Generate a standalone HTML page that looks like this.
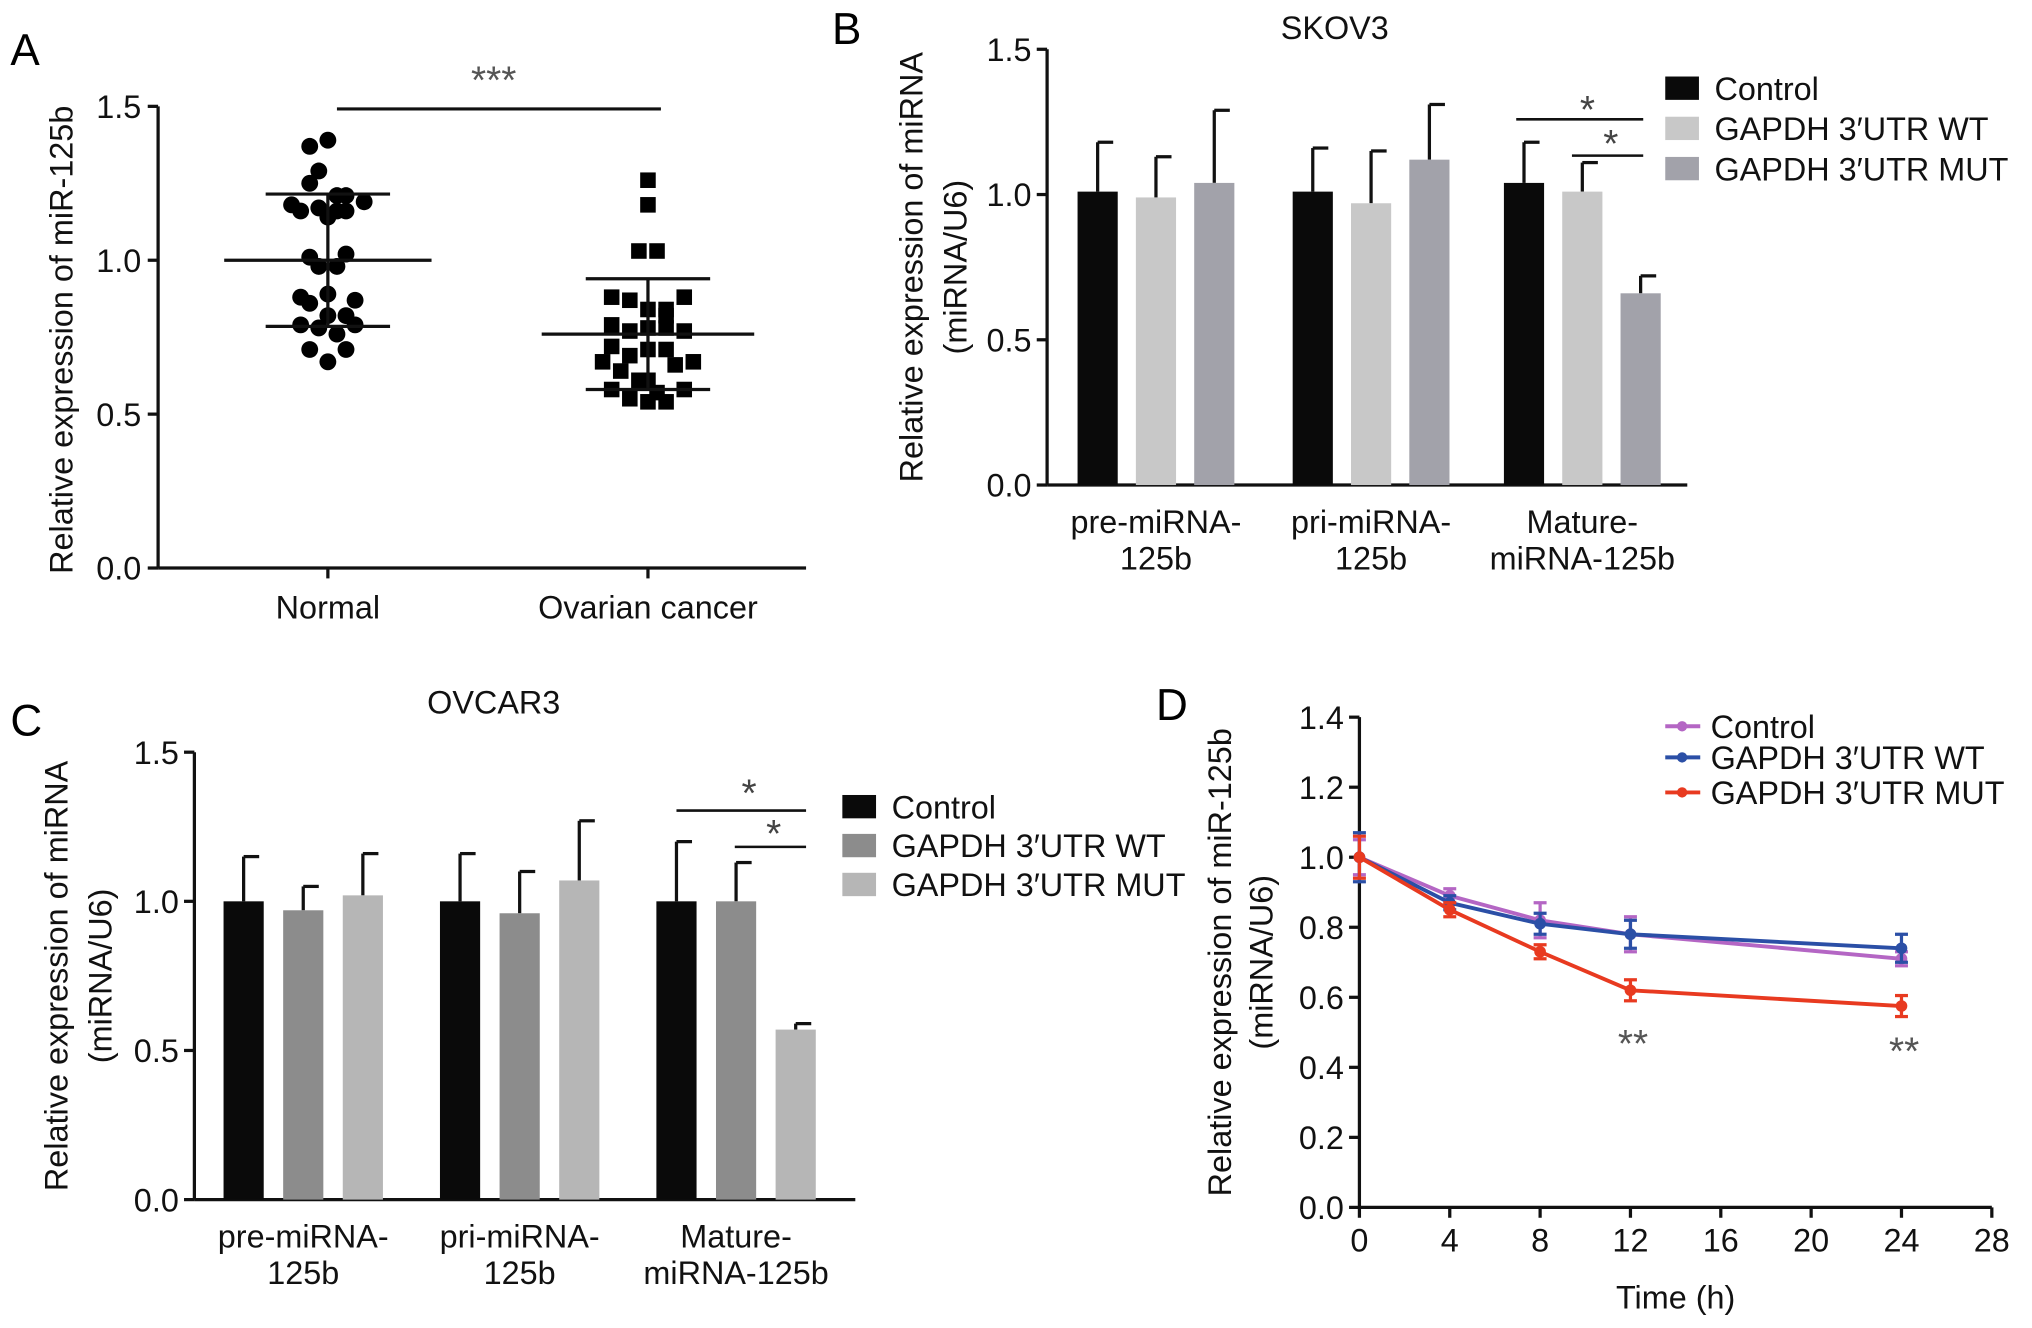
<!DOCTYPE html>
<html><head><meta charset="utf-8"><style>
html,body{margin:0;padding:0;background:#fff}
svg{display:block;font-family:"Liberation Sans",sans-serif}
</style></head><body>
<svg id="fig" width="2032" height="1328" viewBox="0 0 1568 1024" preserveAspectRatio="none" xmlns="http://www.w3.org/2000/svg">
<rect width="1568" height="1024" fill="#fff"/>
<text x="8" y="50" font-size="34">A</text>
<text x="642" y="34" font-size="34">B</text>
<text x="8" y="567" font-size="34">C</text>
<text x="892" y="555" font-size="34">D</text>
</svg>
<script>
// Panel A data
const aCats = ["Normal", "Ovarian cancer"];
const aNormal = [1.39,1.37,1.29,1.25,1.21,1.21,1.18,1.19,1.16,1.16,1.17,1.16,1.14,1.01,1.02,0.98,0.98,0.88,0.86,0.89,0.87,0.82,0.82,0.79,0.79,0.78,0.76,0.71,0.71,0.67];
const aNormalOff = [0,-1,-0.5,-1,0.5,1,-2,2,-1.5,1,-0.5,0.5,0,-1,1,-0.5,0.5,-1.5,-1,0,1.5,0,1,-1.5,1.5,-0.5,0.5,-1,1,0];
const aCancer = [1.26,1.18,1.03,1.03,0.88,0.88,0.87,0.84,0.84,0.82,0.79,0.78,0.77,0.78,0.77,0.72,0.71,0.71,0.69,0.67,0.67,0.66,0.64,0.61,0.61,0.58,0.58,0.57,0.55,0.54,0.54];
const aCancerOff = [0,0,-0.5,0.5,-2,2,-1,0,1,1,-2,0,-1,1,2,-2,0,1,-1,-2.5,2.5,1.5,-1.5,0,-0.5,-2,2,0.5,-1,0,1];
const aMeans = [1.0,0.76];
const aSD = [0.215,0.18];
const aTicks = [0,0.5,1.0,1.5];

// Panel B data (SKOV3)
const groupCats = [["pre-miRNA-","125b"],["pri-miRNA-","125b"],["Mature-","miRNA-125b"]];
const seriesNames = ["Control","GAPDH 3\u2032UTR WT","GAPDH 3\u2032UTR MUT"];
const bCtrl = [1.01,1.01,1.04];
const bWT = [0.99,0.97,1.01];
const bMUT = [1.04,1.12,0.66];
const bCtrlErr = [0.17,0.15,0.14];
const bWTErr = [0.14,0.18,0.10];
const bMUTErr = [0.25,0.19,0.06];
const barTicks = [0,0.5,1.0,1.5];

// Panel C data (OVCAR3)
const cCtrl = [1.0,1.0,1.0];
const cWT = [0.97,0.96,1.0];
const cMUT = [1.02,1.07,0.57];
const cCtrlErr = [0.15,0.16,0.2];
const cWTErr = [0.08,0.14,0.13];
const cMUTErr = [0.14,0.2,0.02];

// Panel D data
const dTimes = [0,4,8,12,24];
const dCtrl = [1.0,0.89,0.82,0.78,0.71];
const dWT = [1.0,0.87,0.81,0.78,0.74];
const dMUT = [1.0,0.85,0.73,0.62,0.575];
const dCtrlErr = [0.05,0.02,0.05,0.05,0.02];
const dWTErr = [0.07,0.02,0.03,0.04,0.04];
const dMUTErr = [0.06,0.02,0.02,0.03,0.03];
const dXTicks = [0,4,8,12,16,20,24,28];
const dYTicks = [0,0.2,0.4,0.6,0.8,1.0,1.2,1.4];

const FS=25;
const NS="http://www.w3.org/2000/svg";
const svg=document.getElementById('fig');
function el(tag,attrs,parent){const e=document.createElementNS(NS,tag);for(const k in attrs)e.setAttribute(k,attrs[k]);(parent||svg).appendChild(e);return e;}
function txt(x,y,s,size,anchor,parent,extra){const t=el('text',Object.assign({x:x,y:y,'font-size':size,'text-anchor':anchor||'middle',fill:'#111'},extra||{}),parent);t.textContent=s;return t;}
function line(x1,y1,x2,y2,w,c,parent){return el('line',{x1,y1,x2,y2,stroke:c||'#111','stroke-width':w||2.5},parent);}

// ---------- Panel A ----------
(function(){
 const g=el('g',{});
 const x0=122,x1=622,y0=438,yTop=82;
 const y=v=>y0-(v/1.5)*(y0-yTop);
 const cx=[253,500];
 line(x0,yTop,x0,y0,2.5,'#111',g);line(x0,y0,x1,y0,2.5,'#111',g);
 aTicks.forEach(t=>{line(x0-8,y(t),x0,y(t),2.5,'#111',g);const l=txt(x0-13,y(t)+9,t.toFixed(1),FS,'end',g);});
 aCats.forEach((c,i)=>{line(cx[i],y0,cx[i],y0+8,2.5,'#111',g);const l=txt(cx[i],y0+39,c,FS,'middle',g);});
 const yl=txt(0,0,'Relative expression of miR-125b',FS,'middle',g,{transform:`translate(56,${(y0+yTop)/2+2}) rotate(-90)`});
 
 aNormal.forEach((v,i)=>{const d=el('circle',{cx:cx[0]+aNormalOff[i]*14,cy:y(v),r:6.5,fill:'#000'},g);});
 aCancer.forEach((v,i)=>{const d=el('rect',{x:cx[1]+aCancerOff[i]*14-6,y:y(v)-6,width:12,height:12,fill:'#000'},g);});
 [[0,80,48],[1,82,48]].forEach(([i,mw,sw])=>{
  line(cx[i]-mw,y(aMeans[i]),cx[i]+mw,y(aMeans[i]),2.5,'#111',g);
  line(cx[i],y(aMeans[i]+aSD[i]),cx[i],y(aMeans[i]-aSD[i]),2.5,'#111',g);
  line(cx[i]-sw,y(aMeans[i]+aSD[i]),cx[i]+sw,y(aMeans[i]+aSD[i]),2.5,'#111',g);
  line(cx[i]-sw,y(aMeans[i]-aSD[i]),cx[i]+sw,y(aMeans[i]-aSD[i]),2.5,'#111',g);
 });
 line(260,84,510,84,2.5,'#111',g);
 const s=txt(381,72,'***',30,'middle',g,{fill:'#555'});
})();

// ---------- Bar panels ----------
function barPanel(o){
 const g=el('g',{});
 const y=v=>o.y0-(v/1.5)*(o.y0-o.yTop);
 line(o.x0,o.yTop,o.x0,o.y0,2.5,'#111',g);line(o.x0,o.y0,o.x1,o.y0,2.5,'#111',g);
 barTicks.forEach(t=>{line(o.x0-8,y(t),o.x0,y(t),2.5,'#111',g);const l=txt(o.x0-12,y(t)+9,t.toFixed(1),FS,'end',g);});
 const series=[o.ctrl,o.wt,o.mut],errs=[o.ctrlErr,o.wtErr,o.mutErr];
 const bw=31;
 groupCats.forEach((c,gi)=>{
  const gc=o.gx[gi];
  series.forEach((s,si)=>{
   const cx=gc+(si-1)*o.sp;
   const top=y(s[gi]);
   line(cx,y(s[gi]+errs[si][gi]),cx,top,2.5,'#111',g);
   line(cx,y(s[gi]+errs[si][gi]),cx+12,y(s[gi]+errs[si][gi]),2.5,'#111',g);
   const r=el('rect',{x:cx-bw/2,y:top,width:bw,height:o.y0-top,fill:o.colors[si]},g);
   
  });
  c.forEach((ln,k)=>{const l=txt(gc,o.y0+37+k*28,ln,FS,'middle',g);});
 });
 const tl=txt(o.titleX,o.titleY,o.title,FS,'middle',g);
 const yt=el('text',{'font-size':FS,'text-anchor':'middle',fill:'#111',transform:`translate(${o.ylx},${(o.y0+o.yTop)/2}) rotate(-90)`},g);
 
 const t1=el('tspan',{x:0,dy:0},yt);t1.textContent='Relative expression of miRNA';
 const t2=el('tspan',{x:0,dy:34},yt);t2.textContent='(miRNA/U6)';
 seriesNames.forEach((n,i)=>{
  const le=el('g',{},g);
  el('rect',{x:o.lx,y:o.ly+i*o.lsp-9,width:26,height:18,fill:o.colors[i]},le);
  txt(o.lx+38,o.ly+i*o.lsp+9,n,FS,'start',le);
 });
 o.sig.forEach(s=>{line(s[0],s[2],s[1],s[2],2,'#111',g);const st=txt(s[3],s[4],'*',30,'middle',g,{fill:'#444'});});
}
barPanel({name:'panel-b-skov3',x0:808,x1:1302,y0:374,yTop:38,gx:[892,1058,1221],sp:45,ctrl:bCtrl,wt:bWT,mut:bMUT,ctrlErr:bCtrlErr,wtErr:bWTErr,mutErr:bMUTErr,
 colors:['#0a0a0a','#c8c8c8','#a2a2aa'],title:'SKOV3',titleX:1030,titleY:30,ylx:712,lx:1285,ly:68,lsp:31,
 sig:[[1170,1268,92,1225,95],[1213,1268,120,1243,121]]});
barPanel({name:'panel-c-ovcar3',x0:150,x1:660,y0:925,yTop:580,gx:[234,401,568],sp:46,ctrl:cCtrl,wt:cWT,mut:cMUT,ctrlErr:cCtrlErr,wtErr:cWTErr,mutErr:cMUTErr,
 colors:['#0a0a0a','#8c8c8c','#b6b6b6'],title:'OVCAR3',titleX:381,titleY:550,ylx:52,lx:650,ly:622,lsp:30,
 sig:[[522,622,625,578,622],[567,622,653,597,653]]});

// ---------- Panel D ----------
(function(){
 const g=el('g',{});
 const x0=1049,x1=1537,y0=931,yTop=553;
 const x=t=>x0+t/28*(x1-x0),y=v=>y0-v/1.4*(y0-yTop);
 line(x0,yTop,x0,y0,2.5,'#111',g);line(x0,y0,x1,y0,2.5,'#111',g);
 dYTicks.forEach(t=>{line(x0-8,y(t),x0,y(t),2.5,'#111',g);const l=txt(x0-12,y(t)+9,t.toFixed(1),FS,'end',g);});
 dXTicks.forEach(t=>{line(x(t),y0,x(t),y0+8,2.5,'#111',g);const l=txt(x(t),y0+34,String(t),FS,'middle',g);});
 const xt=txt((x0+x1)/2,y0+78,'Time (h)',FS,'middle',g);
 const yt=el('text',{'font-size':FS,'text-anchor':'middle',fill:'#111',transform:`translate(950,${(y0+yTop)/2}) rotate(-90)`},g);
 
 const t1=el('tspan',{x:0,dy:0},yt);t1.textContent='Relative expression of miR-125b';
 const t2=el('tspan',{x:0,dy:32},yt);t2.textContent='(miRNA/U6)';
 const ser=[[dCtrl,dCtrlErr,'#b466c4'],[dWT,dWTErr,'#2b4fa6'],[dMUT,dMUTErr,'#e83a20']];
 ser.forEach(([v,e,c],si)=>{
  const pts=dTimes.map((t,i)=>x(t)+','+y(v[i])).join(' ');
  const p=el('polyline',{points:pts,fill:'none',stroke:c,'stroke-width':3},g);
  
  dTimes.forEach((t,i)=>{
   const X=x(t);
   line(X,y(v[i]+e[i]),X,y(v[i]-e[i]),2.5,c,g);
   line(X-5,y(v[i]+e[i]),X+5,y(v[i]+e[i]),2.5,c,g);
   line(X-5,y(v[i]-e[i]),X+5,y(v[i]-e[i]),2.5,c,g);
   const mk=el('circle',{cx:X,cy:y(v[i]),r:4.5,fill:c},g);
   
  });
 });
 ['**','**'].forEach((s,i)=>{const st=txt(x([12,24][i])+2,[815,821][i],s,30,'middle',g,{fill:'#555'});});
 const ly=[560,584,611];
 ser.forEach(([v,e,c],i)=>{
  const le=el('g',{},g);
  line(1285,ly[i],1312,ly[i],3,c,le);
  el('circle',{cx:1298,cy:ly[i],r:4,fill:c},le);
  txt(1320,ly[i]+9,seriesNames[i],FS,'start',le);
 });
})();
</script>
</body></html>
